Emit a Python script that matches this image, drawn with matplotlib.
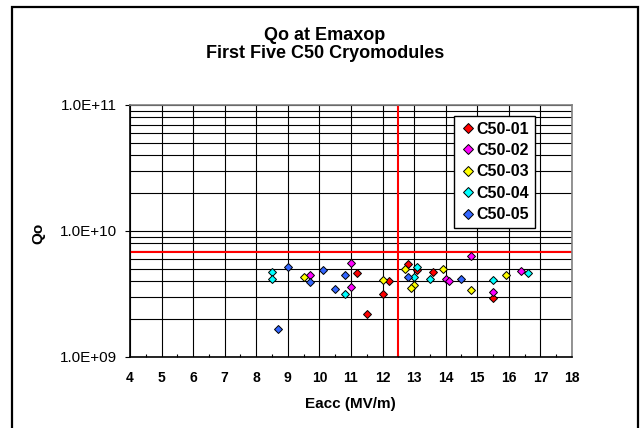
import numpy as np
import matplotlib
matplotlib.use("Agg")
import matplotlib.pyplot as plt
from matplotlib.ticker import LogLocator, MultipleLocator, FixedLocator, NullFormatter
from matplotlib.patches import Rectangle

plt.rcParams['font.family'] = ['Liberation Sans', 'DejaVu Sans']

# Eacc (MV/m) and Qo at Emaxop for each cryomodule
names = ["C50-01", "C50-02", "C50-03", "C50-04", "C50-05"]
colors = ["#FF0000", "#FF00FF", "#FFFF00", "#00FFFF", "#3366FF"]

eacc_01 = [11.2, 11.5, 12.0, 12.2, 12.8, 13.1, 13.6, 15.5]
qo_01 = [4.64e9, 2.19e9, 3.16e9, 4.04e9, 5.47e9, 4.9e9, 4.75e9, 2.92e9]

eacc_02 = [9.7, 11.0, 11.0, 14.0, 14.1, 14.8, 15.5, 16.4]
qo_02 = [4.45e9, 5.57e9, 3.61e9, 4.14e9, 4.01e9, 6.34e9, 3.26e9, 4.82e9]

eacc_03 = [9.5, 12.0, 12.7, 13.0, 12.9, 13.9, 14.8, 15.9]
qo_03 = [4.33e9, 4.11e9, 4.96e9, 3.75e9, 3.55e9, 4.96e9, 3.40e9, 4.48e9]

eacc_04 = [8.5, 8.5, 10.8, 13.1, 13.0, 13.5, 15.5, 16.6]
qo_04 = [4.75e9, 4.14e9, 3.14e9, 5.21e9, 4.33e9, 4.14e9, 4.09e9, 4.61e9]

eacc_05 = [9.0, 8.7, 9.7, 10.1, 10.8, 10.5, 12.8, 14.5]
qo_05 = [5.2e9, 1.66e9, 3.96e9, 4.93e9, 4.48e9, 3.44e9, 4.33e9, 4.18e9]

eacc_all = [eacc_01, eacc_02, eacc_03, eacc_04, eacc_05]
qo_all = [qo_01, qo_02, qo_03, qo_04, qo_05]

qo_spec = 6.8e9     # horizontal red line
eacc_spec = 12.5    # vertical red line

fig = plt.figure(figsize=(6.4, 4.28), dpi=100)
ax = fig.add_axes([0.2031, 0.1659, 0.6906, 0.5888])

ax.set_yscale('log')
ax.set_xlim(4, 18)
ax.set_ylim(1e9, 1e11)

# grid
ax.xaxis.set_major_locator(MultipleLocator(1))
ax.xaxis.set_minor_locator(MultipleLocator(0.5))
ax.yaxis.set_major_locator(FixedLocator([1e9, 1e10, 1e11]))
ax.yaxis.set_minor_locator(LogLocator(base=10, subs=np.arange(2, 10)))
ax.yaxis.set_minor_formatter(NullFormatter())
ax.grid(True, which='major', axis='both', color='black', lw=0.8)
ax.grid(True, which='minor', axis='y', color='black', lw=0.8)
ax.set_axisbelow(True)

ax.axhline(qo_spec, color='#FF0000', lw=1.5, zorder=2)
ax.axvline(eacc_spec, color='#FF0000', lw=1.5, zorder=2)

for x, y, c, n in zip(eacc_all, qo_all, colors, names):
    ax.plot(x, y, ls='none', marker='D', ms=4.4, mfc=c, mec='black', mew=0.7,
            label=n, zorder=3)

ax.yaxis.set_major_formatter(plt.FuncFormatter(
    lambda v, p: "1.0E+%02d" % int(round(np.log10(v)))))
ax.tick_params(axis='y', which='major', direction='out', length=3.6, width=0.8,
               labelsize=11, pad=5.5)
ax.tick_params(axis='y', which='minor', length=0)
ax.tick_params(axis='x', which='both', direction='in', labelsize=10, pad=10)
ax.tick_params(axis='x', which='major', length=0)
ax.tick_params(axis='x', which='minor', length=2.5, width=0.8)
for lbl in ax.get_xticklabels():
    lbl.set_fontweight('bold')

for s in ax.spines.values():
    s.set_color('#808080')
    s.set_linewidth(1.2)
ax.spines['left'].set_color('black')
ax.spines['bottom'].set_color('black')

leg = ax.legend(loc='upper left', bbox_to_anchor=(0.733, 0.956),
                prop={'weight': 'bold', 'size': 11.5}, frameon=True, fancybox=False,
                handletextpad=0.05, handlelength=1.0, borderpad=0.35,
                labelspacing=0.4, borderaxespad=0, framealpha=1)
leg.get_frame().set_edgecolor('black')
leg.get_frame().set_linewidth(1.0)
for h in leg.legend_handles:
    h.set_markersize(5)

fig.text(0.508, 1 - 35 / 428, "Qo at Emaxop", ha='center', va='center',
         fontsize=13, fontweight='bold')
fig.text(0.508, 1 - 54 / 428, "First Five C50 Cryomodules", ha='center', va='center',
         fontsize=13, fontweight='bold')
fig.text(0.548, 1 - 404 / 428, "Eacc (MV/m)", ha='center', va='center',
         fontsize=11, fontweight='bold')
fig.text(38 / 640, 1 - 233 / 428, "Qo", ha='center', va='center', rotation=90,
         fontsize=11, fontweight='bold')

# outer frame of the chart area
fig.patches.append(Rectangle((12 / 640, -0.05), 626 / 640, 1 - 7 / 428 + 0.05,
                             transform=fig.transFigure, fill=False,
                             edgecolor='black', lw=1.6))

fig.savefig("out.png", dpi=100)
